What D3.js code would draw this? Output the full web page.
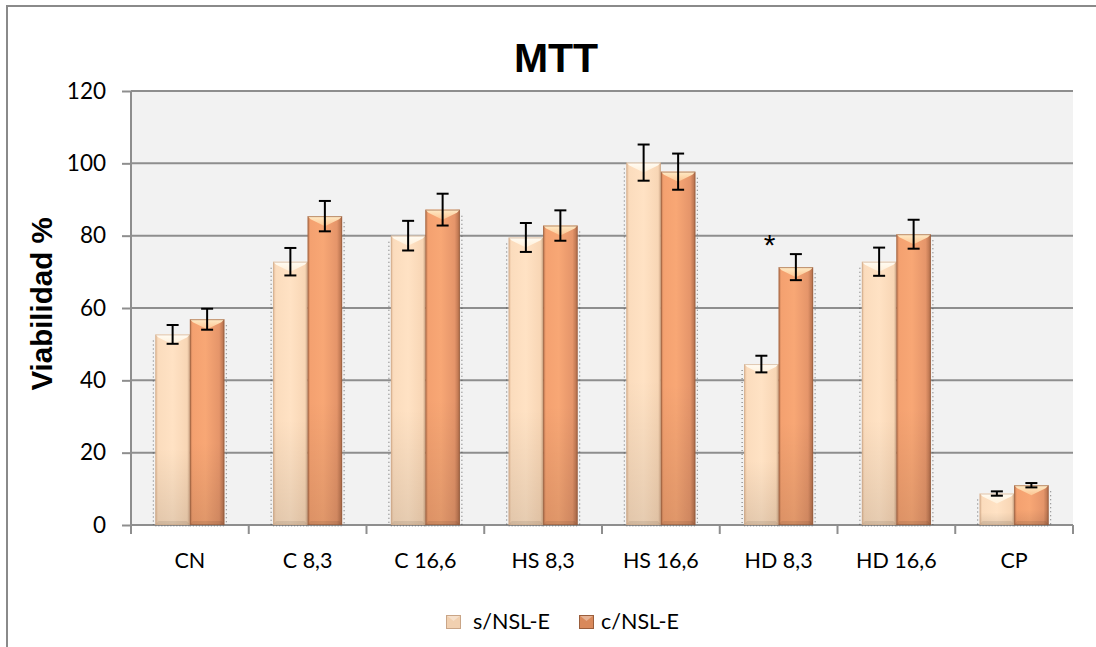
<!DOCTYPE html>
<html>
<head>
<meta charset="utf-8">
<script src="https://cdn.jsdelivr.net/npm/d3@7"></script>
<style>
  html, body { margin: 0; padding: 0; background: #ffffff; }
  svg { display: block; }
</style>
</head>
<body>
<svg id="chart" width="1096" height="647"></svg>
<script>
// Treatment groups on the x axis
const categories = ["CN", "C 8,3", "C 16,6", "HS 8,3", "HS 16,6", "HD 8,3", "HD 16,6", "CP"];
const seriesNames = ["s/NSL-E", "c/NSL-E"];

// Mean viability (%) and error (±) per series
const sValues = [52.7, 72.8, 80.0, 79.5, 100.2, 44.5, 72.8, 8.7];
const sErrors = [2.6, 3.8, 4.1, 4.0, 5.0, 2.3, 3.9, 0.6];
const cValues = [56.9, 85.4, 87.2, 82.8, 97.7, 71.3, 80.4, 11.0];
const cErrors = [2.9, 4.2, 4.4, 4.2, 5.0, 3.6, 4.0, 0.6];

const yTicks = [0, 20, 40, 60, 80, 100, 120];

// Significance mark
const marks = [{ category: "HD 8,3", value: 79.2, text: "*" }];

const svg = d3.select("#chart");
const plot = { left: 131, right: 1073, top: 91, bottom: 525 };

// Outer chart frame
svg.append("rect")
  .attr("x", 7).attr("y", 6).attr("width", 1100).attr("height", 700)
  .attr("fill", "none").attr("stroke", "#8a8a8a").attr("stroke-width", 2);

const y = d3.scaleLinear().domain([0, 120]).range([plot.bottom, plot.top]);
const x0 = d3.scaleBand().domain(categories).range([plot.left, plot.right])
  .paddingInner(0.414).paddingOuter(0.207);
const x1 = d3.scaleBand().domain(seriesNames).range([0, x0.bandwidth()]).padding(0);

// Gradients for the bevelled bars
const defs = svg.append("defs");
function hGrad(id, stops) {
  const g = defs.append("linearGradient").attr("id", id)
    .attr("x1", "0").attr("x2", "1").attr("y1", "0").attr("y2", "0");
  stops.forEach(s => g.append("stop").attr("offset", s[0]).attr("stop-color", s[1]));
}
function vGrad(id, stops) {
  const g = defs.append("linearGradient").attr("id", id)
    .attr("x1", "0").attr("x2", "0").attr("y1", "0").attr("y2", "1");
  stops.forEach(s => g.append("stop").attr("offset", s[0]).attr("stop-color", s[1]).attr("stop-opacity", s[2]));
}
hGrad("gS", [[0, "#e5bd9a"], [0.08, "#fbdcbd"], [0.5, "#ffe2c4"], [0.92, "#f8d6b5"], [1, "#d4ae8d"]]);
hGrad("gC", [[0, "#c27a52"], [0.08, "#f4a170"], [0.45, "#f8a775"], [0.85, "#e5956a"], [1, "#b06c49"]]);
vGrad("shade", [[0, "#000000", 0], [0.6, "#000000", 0.0], [1, "#000000", 0.1]]);
vGrad("topS", [[0, "#fffcf4", 1], [1, "#fff1dc", 0.9]]);
vGrad("topC", [[0, "#ffecc8", 1], [1, "#fdca97", 0.9]]);

// Plot background
svg.append("rect")
  .attr("x", plot.left).attr("y", plot.top)
  .attr("width", plot.right - plot.left).attr("height", plot.bottom - plot.top)
  .attr("fill", "#f2f2f2");

// Horizontal gridlines
svg.append("g").selectAll("line").data(yTicks.filter(t => t > 0)).join("line")
  .attr("x1", plot.left).attr("x2", plot.right)
  .attr("y1", d => y(d)).attr("y2", d => y(d))
  .attr("stroke", "#8e8e8e").attr("stroke-width", 2);

// Y axis
const yAxis = svg.append("g").attr("transform", `translate(${plot.left},0)`)
  .call(d3.axisLeft(y).tickValues(yTicks).tickSize(9).tickPadding(16));
yAxis.select(".domain").attr("stroke", "#8e8e8e").attr("stroke-width", 2)
  .attr("d", `M0,${plot.top}V${plot.bottom}`);
yAxis.selectAll(".tick line").attr("stroke", "#8e8e8e").attr("stroke-width", 2);
yAxis.selectAll(".tick text")
  .attr("font-family", "Lato, 'Open Sans', sans-serif").attr("font-size", 22.5)
  .attr("fill", "#000");

// X axis: ticks at category boundaries
const boundaries = d3.range(categories.length + 1).map(i => plot.left + i * x0.step());
const xAxis = svg.append("g");
xAxis.append("line")
  .attr("x1", plot.left).attr("x2", plot.right)
  .attr("y1", plot.bottom).attr("y2", plot.bottom)
  .attr("stroke", "#8e8e8e").attr("stroke-width", 2);
xAxis.selectAll("line.tk").data(boundaries).join("line").attr("class", "tk")
  .attr("x1", d => d).attr("x2", d => d)
  .attr("y1", plot.bottom).attr("y2", plot.bottom + 9)
  .attr("stroke", "#8e8e8e").attr("stroke-width", 2);
xAxis.selectAll("text").data(categories).join("text")
  .attr("x", d => x0(d) + x0.bandwidth() / 2)
  .attr("y", 568)
  .attr("text-anchor", "middle")
  .attr("font-family", "Lato, 'Open Sans', sans-serif").attr("font-size", 21.5)
  .attr("fill", "#000")
  .text(d => d);

// Bars
const rows = categories.map((c, i) => ({
  category: c,
  items: [
    { series: "s/NSL-E", value: sValues[i], err: sErrors[i] },
    { series: "c/NSL-E", value: cValues[i], err: cErrors[i] }
  ]
}));

const groups = svg.append("g").selectAll("g").data(rows).join("g")
  .attr("transform", d => `translate(${x0(d.category)},0)`);

const bars = groups.selectAll("g.bar").data(d => d.items).join("g").attr("class", "bar");

bars.each(function(d) {
  const g = d3.select(this);
  const bx = x1(d.series), bw = x1.bandwidth();
  const top = y(d.value), bottom = y(0), h = bottom - top;
  const isS = d.series === "s/NSL-E";
  const bev = Math.min(10, h / 2);

  // dotted edge shadow
  const sx = isS ? bx - 2 : bx + bw + 2;
  g.append("line")
    .attr("x1", sx).attr("x2", sx).attr("y1", top + 6).attr("y2", bottom)
    .attr("stroke", "#333").attr("stroke-opacity", 0.6)
    .attr("stroke-width", 1.2).attr("stroke-dasharray", "1 3");
  g.append("line")
    .attr("x1", bx).attr("x2", bx + bw).attr("y1", bottom + 1).attr("y2", bottom + 1)
    .attr("stroke", "#444").attr("stroke-opacity", 0.5)
    .attr("stroke-width", 1.2).attr("stroke-dasharray", "1 2");

  // front face
  g.append("rect").attr("x", bx).attr("y", top).attr("width", bw).attr("height", h)
    .attr("fill", isS ? "url(#gS)" : "url(#gC)");
  g.append("rect").attr("x", bx).attr("y", top).attr("width", bw).attr("height", h)
    .attr("fill", "url(#shade)");

  // top bevel
  g.append("polygon")
    .attr("points", [[bx, top], [bx + bw, top], [bx + bw - 3, top + 3], [bx + bw / 2, top + bev], [bx + 3, top + 3]].join(" "))
    .attr("fill", isS ? "url(#topS)" : "url(#topC)");
  // bottom bevel
  g.append("polygon")
    .attr("points", [[bx, bottom], [bx + bw, bottom], [bx + bw - 3, bottom - 4], [bx + 3, bottom - 4]].join(" "))
    .attr("fill", "#000").attr("fill-opacity", 0.08);
  // outline
  g.append("rect").attr("x", bx + 0.5).attr("y", top + 0.5).attr("width", bw - 1).attr("height", h - 1)
    .attr("fill", "none").attr("stroke", isS ? "#c9a585" : "#8f5a3c").attr("stroke-opacity", 0.6)
    .attr("stroke-width", 1);
});

// Error bars
const capW = 12;
bars.each(function(d) {
  const g = d3.select(this);
  const cx = x1(d.series) + x1.bandwidth() / 2;
  const yHi = y(d.value + d.err), yLo = y(d.value - d.err);
  g.append("line").attr("x1", cx).attr("x2", cx).attr("y1", yHi).attr("y2", yLo)
    .attr("stroke", "#000").attr("stroke-width", 2);
  [yHi, yLo].forEach(v => g.append("line")
    .attr("x1", cx - capW / 2).attr("x2", cx + capW / 2).attr("y1", v).attr("y2", v)
    .attr("stroke", "#000").attr("stroke-width", 2));
});

// Significance mark
svg.append("g").selectAll("text").data(marks).join("text")
  .attr("x", d => x0(d.category) + x0.bandwidth() * 0.37)
  .attr("y", d => y(d.value))
  .attr("dy", "0.55em")
  .attr("text-anchor", "middle")
  .attr("font-family", "'Liberation Sans', Arial, sans-serif").attr("font-size", 30)
  .attr("fill", "#000")
  .text(d => d.text);

// Title
svg.append("text")
  .attr("x", 556).attr("y", 72)
  .attr("text-anchor", "middle")
  .attr("font-family", "'Liberation Sans', Arial, sans-serif").attr("font-weight", "bold")
  .attr("font-size", 41)
  .text("MTT");

// Y axis title
svg.append("text")
  .attr("transform", `translate(52,304) rotate(-90)`)
  .attr("text-anchor", "middle")
  .attr("font-family", "'Liberation Sans', Arial, sans-serif").attr("font-weight", "bold")
  .attr("font-size", 29.5)
  .text("Viabilidad %");

// Legend
const legend = svg.append("g");
const legendItems = [
  { name: "s/NSL-E", x: 446, tx: 27, fill: "#f1d0b0", edge: "#c9a587" },
  { name: "c/NSL-E", x: 579, tx: 22, fill: "#d9895b", edge: "#9a5e3c" }
];
legendItems.forEach(it => {
  const g = legend.append("g").attr("transform", `translate(${it.x},615)`);
  g.append("rect").attr("width", 15).attr("height", 14).attr("fill", it.fill);
  g.append("polygon").attr("points", "0,0 15,0 7.5,6").attr("fill", "#ffffff").attr("fill-opacity", 0.35);
  g.append("rect").attr("x", 0.5).attr("y", 0.5).attr("width", 14).attr("height", 13)
    .attr("fill", "none").attr("stroke", it.edge).attr("stroke-width", 1);
  g.append("text").attr("x", it.tx).attr("y", 14)
    .attr("font-family", "Lato, 'Open Sans', sans-serif").attr("font-size", 21.5)
    .attr("fill", "#000").text(it.name);
});
</script>
</body>
</html>
